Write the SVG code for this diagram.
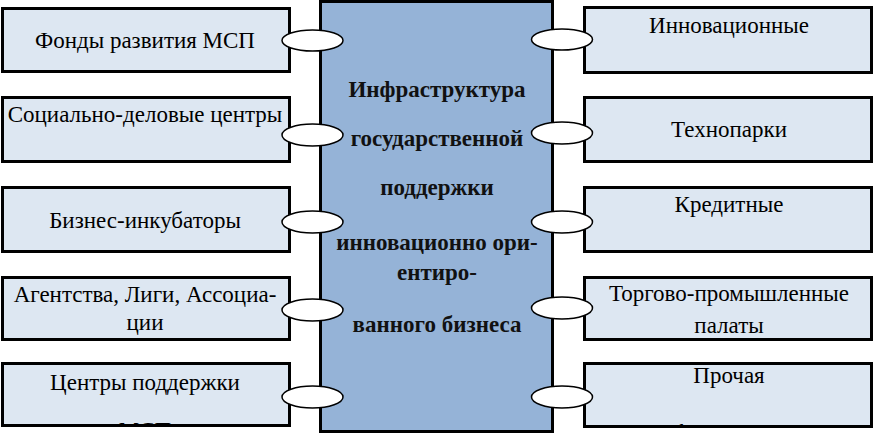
<svg xmlns="http://www.w3.org/2000/svg" width="875" height="435" viewBox="0 0 875 435">
<style>
.box{fill:#dde7f2;stroke:#000;stroke-width:3}
.core{fill:#95b3d7;stroke:#000;stroke-width:3}
.lnk{fill:#fff;stroke:#000;stroke-width:1.5}
.t{fill:#000}
.tb{font-weight:bold;fill:#111}
</style>
<defs>
<clipPath id="clipL5"><rect x="4" y="365" width="284" height="59"/></clipPath>
<clipPath id="clipR5"><rect x="586" y="365" width="284" height="60"/></clipPath>
</defs>
<rect width="875" height="435" fill="#fff"/>
<g font-family="Liberation Serif, DejaVu Serif, serif" font-size="23" text-anchor="middle">
<g id="core">
<rect class="core" x="320.5" y="1.5" width="232" height="430"/>
<text class="tb" x="437" y="97">Инфраструктура</text>
<text class="tb" x="437" y="146">государственной</text>
<text class="tb" x="437" y="195">поддержки</text>
<text class="tb" x="437" y="250">инновационно ори-</text>
<text class="tb" x="437" y="280">ентиро-</text>
<text class="tb" x="437" y="332">ванного бизнеса</text>
</g>
<g id="l1"><rect class="box" x="2.5" y="8.5" width="287" height="63"/><text class="t" x="145" y="48">Фонды развития МСП</text></g>
<g id="l2"><rect class="box" x="2.5" y="97.5" width="287" height="64"/><text class="t" x="145" y="122">Социально-деловые центры</text></g>
<g id="l3"><rect class="box" x="2.5" y="187.5" width="287" height="64"/><text class="t" x="145" y="228">Бизнес-инкубаторы</text></g>
<g id="l4"><rect class="box" x="2.5" y="277.5" width="287" height="62"/><text class="t" x="145" y="302">Агентства, Лиги, Ассоциа-</text><text class="t" x="145" y="330">ции</text></g>
<g id="l5"><rect class="box" x="2.5" y="363.5" width="287" height="62"/><text class="t" x="145" y="390">Центры поддержки</text><text class="t" x="145" y="438" clip-path="url(#clipL5)">МСП</text></g>
<g id="r1"><rect class="box" x="584.5" y="7.5" width="287" height="65"/><text class="t" x="729" y="33">Инновационные</text></g>
<g id="r2"><rect class="box" x="584.5" y="97.5" width="287" height="64"/><text class="t" x="729" y="137">Технопарки</text></g>
<g id="r3"><rect class="box" x="584.5" y="187.5" width="287" height="64"/><text class="t" x="729" y="212">Кредитные</text></g>
<g id="r4"><rect class="box" x="584.5" y="277.5" width="287" height="62"/><text class="t" x="729" y="301">Торгово-промышленные</text><text class="t" x="729" y="333">палаты</text></g>
<g id="r5"><rect class="box" x="584.5" y="363.5" width="287" height="63"/><text class="t" x="729" y="383">Прочая</text><text class="t" x="729" y="440" clip-path="url(#clipR5)">инфраструктура</text></g>
</g>
<g id="connectors">
<ellipse class="lnk" cx="312.5" cy="40.5" rx="30.5" ry="10.5"/>
<ellipse class="lnk" cx="312.5" cy="135" rx="30.5" ry="11"/>
<ellipse class="lnk" cx="312.5" cy="222" rx="30.5" ry="11"/>
<ellipse class="lnk" cx="312.5" cy="310" rx="30.5" ry="11"/>
<ellipse class="lnk" cx="312.5" cy="397" rx="30.5" ry="11"/>
<ellipse class="lnk" cx="562" cy="39.5" rx="30.5" ry="10.5"/>
<ellipse class="lnk" cx="562" cy="133" rx="30.5" ry="11"/>
<ellipse class="lnk" cx="562" cy="222" rx="30.5" ry="11"/>
<ellipse class="lnk" cx="562" cy="308" rx="30.5" ry="11"/>
<ellipse class="lnk" cx="562" cy="397" rx="30.5" ry="11"/>
</g>
</svg>
